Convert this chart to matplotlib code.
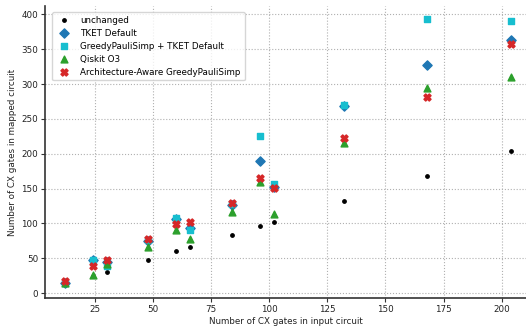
import numpy as np
import matplotlib.pyplot as plt

input_cx = [12, 24, 30, 48, 60, 66, 84, 96, 102, 132, 168, 204]
unchanged = [12, 24, 30, 48, 60, 66, 84, 96, 102, 132, 168, 204]
tket_default = [14, 48, 44, 75, 107, 93, 127, 189, 152, 268, 327, 363]
gps_tket = [15, 48, 39, 76, 108, 90, 128, 225, 156, 270, 393, 390]
qiskit_o3 = [14, 26, 42, 66, 90, 78, 117, 159, 114, 216, 294, 310]
arch_gps = [18, 39, 48, 78, 99, 102, 129, 165, 151, 222, 282, 358]

fig = plt.figure(figsize=(5.26, 3.27), dpi=100)
ax = fig.add_axes([45 / 526, 29 / 327, 481 / 526, 292 / 327])

ax.scatter(input_cx, unchanged, color='black', marker='o', s=6, label='unchanged', zorder=3)
ax.scatter(input_cx, tket_default, color='#1f77b4', marker='D', s=22, label='TKET Default', zorder=3)
ax.scatter(input_cx, gps_tket, color='#17becf', marker='s', s=24, label='GreedyPauliSimp + TKET Default', zorder=3)
ax.scatter(input_cx, qiskit_o3, color='#2ca02c', marker='^', s=24, label='Qiskit O3', zorder=3)
ax.scatter(input_cx, arch_gps, color='#d62728', marker='X', s=26, label='Architecture-Aware GreedyPauliSimp', zorder=3)

ax.set_xlim(3.5, 210.5)
ax.set_ylim(-7, 412)
ax.set_xticks([25, 50, 75, 100, 125, 150, 175, 200])
ax.set_yticks([0, 50, 100, 150, 200, 250, 300, 350, 400])

ax.grid(True, linestyle=':', color='#b0b0b0', linewidth=0.8)
ax.set_axisbelow(True)
for side in ['top', 'right']:
    ax.spines[side].set_visible(False)
for side in ['left', 'bottom']:
    ax.spines[side].set_linewidth(1.2)
    ax.spines[side].set_color('#333333')
ax.tick_params(labelsize=6.3, length=3, pad=2, color='#333333', labelcolor='#222222')

ax.set_xlabel('Number of CX gates in input circuit', fontsize=6.3, labelpad=2, color='#222222')
ax.set_ylabel('Number of CX gates in mapped circuit', fontsize=6.3, labelpad=3, color='#222222')

ax.legend(loc='upper left', fontsize=6.3, framealpha=0.8, borderpad=0.45,
          labelspacing=0.45, handletextpad=0.8, bbox_to_anchor=(0.005, 0.995))

fig.savefig('out.png', dpi=100)
